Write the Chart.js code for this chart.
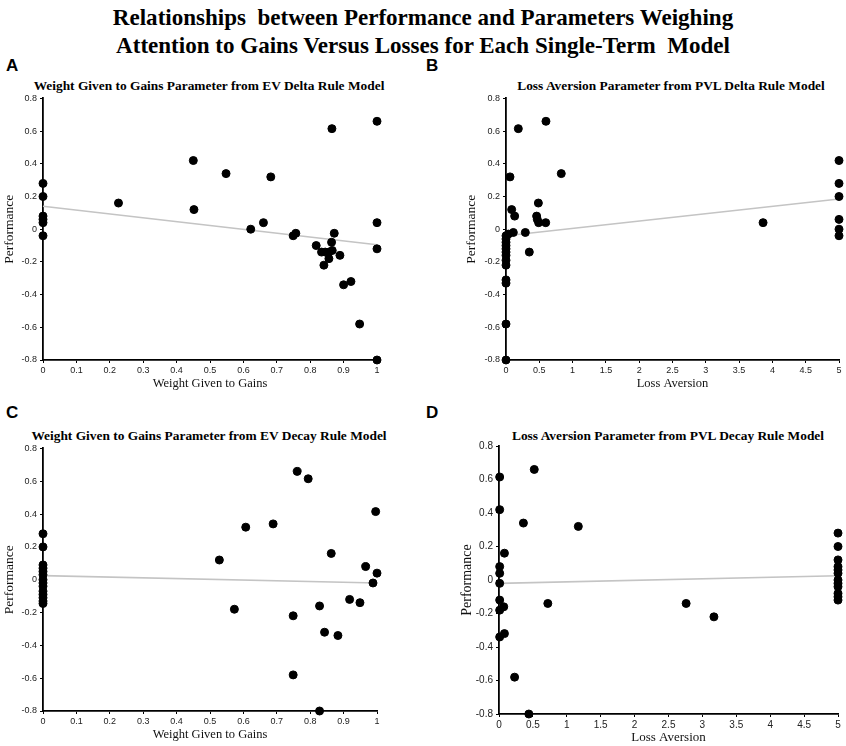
<!DOCTYPE html>
<html>
<head>
<meta charset="utf-8">
<script src="https://cdn.jsdelivr.net/npm/chart.js@4.4.0/dist/chart.umd.min.js"></script>
<style>
  body { margin: 0; background: #fff; width: 846px; height: 746px; position: relative; overflow: hidden; font-family: "Liberation Serif", "Times New Roman", serif; }
  .main { position: absolute; left: 0; top: 3px; width: 846px; text-align: center; font-weight: bold; font-size: 24px; line-height: 28px; transform: scaleX(0.96); }
  .letter { position: absolute; font: bold 17px "Liberation Sans", Arial, sans-serif; }
  .ptitle { position: absolute; font-weight: bold; font-size: 13.4px; line-height: 14px; white-space: nowrap; transform: translateX(-50%); }
  .box { position: absolute; }
</style>
</head>
<body>
<div class="main">Relationships&nbsp; between Performance and Parameters Weighing<br>Attention to Gains Versus Losses for Each Single-Term&nbsp; Model</div>

<div class="letter" style="left:6px;top:56px">A</div>
<div class="letter" style="left:426px;top:56px">B</div>
<div class="letter" style="left:6px;top:403px">C</div>
<div class="letter" style="left:426px;top:403px">D</div>

<div class="ptitle" style="left:209px;top:79px">Weight Given to Gains Parameter from EV Delta Rule Model</div>
<div class="ptitle" style="left:671px;top:79px">Loss Aversion Parameter from PVL Delta Rule Model</div>
<div class="ptitle" style="left:209px;top:429px">Weight Given to Gains Parameter from EV Decay Rule Model</div>
<div class="ptitle" style="left:668px;top:429px">Loss Aversion Parameter from PVL Decay Rule Model</div>

<div class="box" style="left:0px;top:90px;width:390px;height:305px"><canvas id="chartA"></canvas></div>
<div class="box" style="left:462px;top:90px;width:384px;height:305px"><canvas id="chartB"></canvas></div>
<div class="box" style="left:0px;top:440px;width:390px;height:305px"><canvas id="chartC"></canvas></div>
<div class="box" style="left:458px;top:437px;width:388px;height:309px"><canvas id="chartD"></canvas></div>

<script>
// tick labels
const weightTicks = [0, 0.1, 0.2, 0.3, 0.4, 0.5, 0.6, 0.7, 0.8, 0.9, 1];
const lossTicks = [0, 0.5, 1, 1.5, 2, 2.5, 3, 3.5, 4, 4.5, 5];
const perfTicks = [-0.8, -0.6, -0.4, -0.2, 0, 0.2, 0.4, 0.6, 0.8];

// A: EV delta rule, weight given to gains
const evDeltaWeight = [0, 0, 0, 0, 0, 0, 0.226, 0.45, 0.452, 0.548, 0.622, 0.66, 0.682, 0.749, 0.757,
  0.818, 0.834, 0.845, 0.856, 0.866, 0.841, 0.856, 0.865, 0.864, 0.872, 0.889, 0.90, 0.922, 0.948,
  1, 1, 1, 1];
const evDeltaPerf = [0.28, 0.20, 0.08, 0.06, 0.04, -0.04, 0.16, 0.42, 0.12, 0.34, 0.0, 0.04, 0.32, -0.04, -0.025,
  -0.10, -0.14, -0.14, -0.14, -0.13, -0.22, -0.18, 0.615, -0.08, -0.025, -0.16, -0.34, -0.32, -0.58,
  0.66, 0.04, -0.12, -0.80];
const evDeltaFit = [0.14, -0.095];

// B: PVL delta rule, loss aversion
const pvlDeltaLoss = [0, 0, 0, 0, 0, 0, 0, 0, 0, 0, 0, 0, 0,
  0.035, 0.06, 0.085, 0.13, 0.11, 0.185, 0.29, 0.35, 0.486, 0.46, 0.47, 0.49, 0.596, 0.60, 0.83, 3.86,
  5, 5, 5, 5, 5, 5];
const pvlDeltaPerf = [-0.04, -0.06, -0.08, -0.10, -0.12, -0.14, -0.16, -0.19, -0.22, -0.31, -0.33, -0.58, -0.80,
  -0.03, 0.32, 0.12, 0.08, -0.02, 0.615, -0.02, -0.14, 0.16, 0.08, 0.06, 0.04, 0.04, 0.66, 0.34, 0.04,
  0.42, 0.28, 0.20, 0.06, 0.0, -0.04];
const pvlDeltaFit = [-0.04, 0.185];

// C: EV decay rule, weight given to gains
const evDecayWeight = [0, 0, 0, 0, 0, 0, 0, 0, 0, 0, 0, 0, 0, 0,
  0.528, 0.573, 0.607, 0.689, 0.749, 0.749, 0.761, 0.794, 0.828, 0.828, 0.843, 0.863, 0.883, 0.918,
  0.949, 0.966, 0.988, 0.996, 1.0];
const evDecayPerf = [0.28, 0.20, 0.09, 0.07, 0.05, 0.03, 0.0, -0.02, -0.04, -0.07, -0.09, -0.11, -0.13, -0.145,
  0.12, -0.18, 0.32, 0.34, -0.22, -0.58, 0.66, 0.615, -0.16, -0.80, -0.32, 0.16, -0.34, -0.12,
  -0.14, 0.08, -0.02, 0.415, 0.04];
const evDecayFit = [0.025, -0.02];

// D: PVL decay rule, loss aversion
const pvlDecayLoss = [0.01, 0.01, 0.01, 0.01, 0.01, 0.01, 0.01, 0.01,
  0.52, 0.36, 1.17, 0.08, 0.07, 0.08, 0.23, 0.44, 0.72, 2.76, 3.17,
  5, 5, 5, 5, 5, 5, 5, 5, 5, 5, 5, 5];
const pvlDecayPerf = [0.615, 0.42, 0.08, 0.04, -0.02, -0.12, -0.18, -0.34,
  0.66, 0.34, 0.32, 0.16, -0.16, -0.32, -0.58, -0.80, -0.14, -0.14, -0.22,
  0.28, 0.20, 0.12, 0.08, 0.06, 0.04, 0.0, -0.02, -0.04, -0.08, -0.10, -0.12];
const pvlDecayFit = [-0.02, 0.025];

Chart.defaults.font.family = '"Liberation Sans", Arial, sans-serif';
Chart.defaults.color = '#222';
Chart.defaults.animation = false;

function fmt(v) { return String(+v.toFixed(2)); }

function makeChart(id, xs, ys, fit, xTicks, xMax, xTitle, opt) {
  const pts = xs.map((x, i) => ({ x: x, y: ys[i] }));
  const line = [{ x: 0, y: fit[0] }, { x: xMax, y: fit[1] }];
  new Chart(document.getElementById(id), {
    type: 'scatter',
    data: {
      datasets: [
        { data: pts, backgroundColor: '#000', borderColor: '#000', pointRadius: 4, pointHoverRadius: 4, clip: false, order: 1 },
        { data: line, showLine: true, borderColor: '#c4c4c4', borderWidth: 1.6, pointRadius: 0, clip: false, order: 2 }
      ]
    },
    options: {
      responsive: true,
      maintainAspectRatio: false,
      devicePixelRatio: 1,
      layout: { padding: { top: opt.top, right: opt.right, left: 0, bottom: 0 } },
      plugins: { legend: { display: false }, tooltip: { enabled: false } },
      scales: {
        x: {
          type: 'linear', min: 0, max: xMax,
          afterBuildTicks: s => { s.ticks = xTicks.map(v => ({ value: v })); },
          afterFit: s => { s.height = opt.xh; },
          ticks: { font: { size: opt.tickSize }, padding: 2, maxRotation: 0, autoSkip: false, callback: v => fmt(v) },
          grid: { drawOnChartArea: false, drawTicks: true, tickLength: 3, color: '#000' },
          border: { display: true, color: '#000', width: 1.8 },
          title: { display: true, text: xTitle, color: '#111', padding: { top: 0, bottom: opt.titlePad },
            font: { family: '"Liberation Serif", "Times New Roman", serif', size: opt.titleSize } }
        },
        y: {
          type: 'linear', min: -0.8, max: 0.8,
          afterBuildTicks: s => { s.ticks = perfTicks.map(v => ({ value: v })); },
          afterFit: s => { s.width = opt.yw; },
          ticks: { font: { size: opt.tickSize }, padding: 3, autoSkip: false, callback: v => fmt(v) },
          grid: { drawOnChartArea: false, drawTicks: true, tickLength: 3, color: '#000' },
          border: { display: true, color: '#000', width: 1.8 },
          title: { display: true, text: 'Performance', color: '#111', padding: { top: 1, bottom: 0 },
            font: { family: '"Liberation Serif", "Times New Roman", serif', size: opt.titleSize + 1 } }
        }
      }
    }
  });
}

makeChart('chartA', evDeltaWeight, evDeltaPerf, evDeltaFit, weightTicks, 1, 'Weight Given to Gains',
  { top: 7, right: 13, xh: 35, yw: 43, tickSize: 9, titleSize: 12.5, titlePad: 4 });
makeChart('chartB', pvlDeltaLoss, pvlDeltaPerf, pvlDeltaFit, lossTicks, 5, 'Loss Aversion',
  { top: 7, right: 7, xh: 35, yw: 44, tickSize: 9, titleSize: 12.5, titlePad: 4 });
makeChart('chartC', evDecayWeight, evDecayPerf, evDecayFit, weightTicks, 1, 'Weight Given to Gains',
  { top: 6, right: 13, xh: 34, yw: 43, tickSize: 9, titleSize: 12.5, titlePad: 3 });
makeChart('chartD', pvlDecayLoss, pvlDecayPerf, pvlDecayFit, lossTicks, 5, 'Loss Aversion',
  { top: 6.5, right: 8, xh: 32, yw: 41, tickSize: 10, titleSize: 13, titlePad: 1 });
</script>
</body>
</html>
